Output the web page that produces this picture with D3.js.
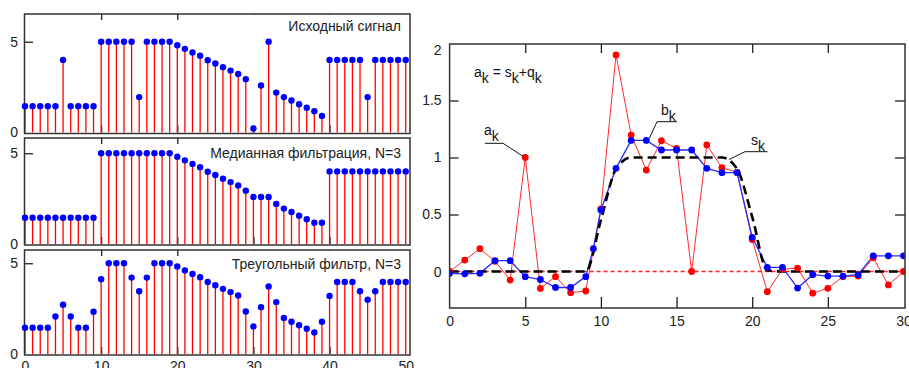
<!DOCTYPE html>
<html>
<head>
<meta charset="utf-8">
<script src="https://cdn.jsdelivr.net/npm/d3@7/dist/d3.min.js"></script>
<style>
  body { margin: 0; background: #fff; }
  svg { display: block; font-family: "Liberation Sans", Arial, sans-serif; }
</style>
</head>
<body>
<div id="root"></div>
<script>
// ---- left: three stem plots, k = 0..50
const kLeft = d3.range(0, 51);
const sourceSignal = [
  1.45, 1.45, 1.45, 1.45, 1.45, 4, 1.45, 1.45, 1.45, 1.45,
  5, 5, 5, 5, 5, 1.95, 5, 5, 5, 5,
  4.81, 4.61, 4.41, 4.23, 3.98, 3.8, 3.6, 3.41, 3.22, 2.94,
  0.22, 2.59, 5, 2.2, 1.95, 1.76, 1.56, 1.36, 1.17, 0.91,
  4, 4, 4, 4, 4, 1.95, 4, 4, 4, 4, 4
];
const medianFiltered = [
  1.45, 1.45, 1.45, 1.45, 1.45, 1.45, 1.45, 1.45, 1.45, 1.45,
  5, 5, 5, 5, 5, 5, 5, 5, 5, 5,
  4.81, 4.61, 4.41, 4.23, 3.98, 3.8, 3.6, 3.41, 3.22, 2.94,
  2.59, 2.59, 2.59, 2.2, 1.95, 1.76, 1.56, 1.36, 1.17, 1.17,
  4, 4, 4, 4, 4, 4, 4, 4, 4, 4, 4
];
const triangleFiltered = [
  1.45, 1.45, 1.45, 1.45, 2.07, 2.71, 2.07, 1.45, 1.45, 2.33,
  4.12, 5, 5, 5, 4.21, 3.46, 4.21, 5, 5, 5,
  4.82, 4.6, 4.41, 4.23, 3.97, 3.79, 3.59, 3.41, 3.22, 2.34,
  1.52, 2.58, 3.72, 2.86, 1.98, 1.78, 1.58, 1.39, 1.19, 1.78,
  3.2, 3.97, 3.97, 3.97, 3.46, 2.99, 3.46, 3.97, 3.97, 3.97, 3.97
];
const panelTitles = ["Исходный сигнал", "Медианная фильтрация, N=3", "Треугольный фильтр, N=3"];
const leftXTicks = [0, 10, 20, 30, 40, 50];
const leftYTicks = [0, 5];

// ---- right: a_k (red), b_k (blue), s_k (dashed), k = 0..30
const kRight = d3.range(0, 31);
const aValues = [
  0, 0.1, 0.2, 0.09, -0.075, 1.0, -0.148, -0.045, -0.186, -0.171,
  0.55, 1.9, 1.197, 0.89, 1.147, 1.08, 0.0, 1.11, 0.91, 0.87,
  0.28, -0.177, 0.02, 0.03, -0.19, -0.147, -0.045, -0.04, 0.12, -0.118,
  0.0
];
const bK = [0, 1, 2, 3, 4, 5, 6, 7, 8, 9, 9.5, 10, 11, 12, 13, 14, 15, 16, 17, 18, 19,
  20, 21, 22, 23, 24, 25, 26, 27, 28, 29, 30];
const bValues = [
  -0.016, -0.02, -0.016, 0.095, 0.095, -0.045, -0.07, -0.14, -0.14, -0.045, 0.2,
  0.54, 0.905, 1.15, 1.15, 1.066, 1.066, 1.066, 0.905, 0.867, 0.867,
  0.3, 0.037, 0.037, -0.145, -0.028, -0.04, -0.04, -0.028, 0.138, 0.138, 0.138
];
const sValues = [
  0, 0, 0, 0, 0, 0, 0, 0, 0, 0,
  0.45, 0.9, 1, 1, 1, 1, 1, 1, 1, 0.9,
  0.48, 0.01, 0, 0, 0, 0, 0, 0, 0, 0, 0
];
const rightXTicks = [0, 5, 10, 15, 20, 25, 30];
const rightYTicks = [0, 0.5, 1, 1.5, 2];

var svg = d3.select("#root")
  .append("svg")
  .attr("width", 909)
  .attr("height", 368);

svg.append("rect").attr("width", 909).attr("height", 368).attr("fill", "#fff");

// ===================== left stem panels
var xLeft = d3.scaleLinear().domain([0, 50]).range([25, 405.7]);
var leftRight = 410;

var panels = [
  { title: panelTitles[0], values: sourceSignal, top: 14, bottom: 132.5, ymax: 6.53, titleY: 31 },
  { title: panelTitles[1], values: medianFiltered, top: 138, bottom: 244, ymax: 5.84, titleY: 158 },
  { title: panelTitles[2], values: triangleFiltered, top: 250, bottom: 354, ymax: 5.73, titleY: 269 }
];

panels.forEach(function (p, i) {
  var y = d3.scaleLinear().domain([0, p.ymax]).range([p.bottom, p.top]);
  var g = svg.append("g");

  // inner ticks on all sides
  var tb = g.append("g").attr("transform", "translate(0," + p.bottom + ")")
    .call(d3.axisTop(xLeft).tickValues(leftXTicks.slice(1, -1)).tickSize(7).tickFormat(""));
  var tt = g.append("g").attr("transform", "translate(0," + p.top + ")")
    .call(d3.axisBottom(xLeft).tickValues(leftXTicks.slice(1, -1)).tickSize(6).tickFormat(""));
  var tl = g.append("g").attr("transform", "translate(" + xLeft(0) + ",0)")
    .call(d3.axisRight(y).tickValues([5]).tickSize(8).tickFormat(""));
  [tb, tt, tl].forEach(function (a) {
    a.select(".domain").remove();
    a.selectAll("line").attr("stroke", "#222").attr("stroke-width", 1.3);
  });

  // y labels
  var yl = g.append("g").attr("transform", "translate(" + xLeft(0) + ",0)")
    .call(d3.axisLeft(y).tickValues(leftYTicks).tickSize(0).tickPadding(7).tickFormat(d3.format("d")));
  yl.select(".domain").remove();
  yl.selectAll("text").attr("font-size", 14).attr("fill", "#222").attr("font-family", null);

  // stems
  g.selectAll(".stem")
    .data(p.values)
    .enter()
    .append("line")
    .attr("class", "stem")
    .attr("x1", (d, k) => xLeft(kLeft[k]))
    .attr("x2", (d, k) => xLeft(kLeft[k]))
    .attr("y1", y(0))
    .attr("y2", d => y(d))
    .attr("stroke", "#ff0000")
    .attr("stroke-width", 1.3);

  // frame
  g.append("rect")
    .attr("x", xLeft(0) - 0.5)
    .attr("y", p.top)
    .attr("width", leftRight - xLeft(0) + 0.5)
    .attr("height", p.bottom - p.top + 1)
    .attr("fill", "none")
    .attr("stroke", "#333")
    .attr("stroke-width", 1.5);

  // title box
  g.append("rect")
    .attr("x", 246).attr("y", p.top + 1)
    .attr("width", leftRight - 247).attr("height", 22)
    .attr("fill", "#fff");
  g.append("text")
    .attr("x", 401)
    .attr("y", p.titleY)
    .attr("text-anchor", "end")
    .attr("font-size", 14)
    .attr("fill", "#222")
    .text(p.title);

  // dots
  g.selectAll(".dot")
    .data(p.values)
    .enter()
    .append("circle")
    .attr("class", "dot")
    .attr("cx", (d, k) => xLeft(kLeft[k]))
    .attr("cy", d => y(d))
    .attr("r", 3.2)
    .attr("fill", "#0000ff");

  if (i === panels.length - 1) {
    var xb = g.append("g").attr("transform", "translate(0," + p.bottom + ")")
      .call(d3.axisBottom(xLeft).tickValues(leftXTicks).tickSize(0).tickPadding(7));
    xb.select(".domain").remove();
    xb.selectAll("text").attr("font-size", 14).attr("fill", "#222").attr("font-family", null);
  }
});

// ===================== right chart
var xRight = d3.scaleLinear().domain([0, 30]).range([449.6, 903.5]);
var yRight = d3.scaleLinear().domain([-0.32, 2]).range([308, 43.5]);
var frame = { left: 449.6, right: 905, top: 44, bottom: 308 };

var rg = svg.append("g");

rg.append("clipPath").attr("id", "clipR")
  .append("rect")
  .attr("x", frame.left).attr("y", frame.top)
  .attr("width", frame.right - frame.left).attr("height", frame.bottom - frame.top);

var inner = [
  rg.append("g").attr("transform", "translate(0," + frame.bottom + ")")
    .call(d3.axisTop(xRight).tickValues(rightXTicks.slice(1, -1)).tickSize(11).tickFormat("")),
  rg.append("g").attr("transform", "translate(0," + frame.top + ")")
    .call(d3.axisBottom(xRight).tickValues(rightXTicks.slice(1, -1)).tickSize(9).tickFormat("")),
  rg.append("g").attr("transform", "translate(" + frame.left + ",0)")
    .call(d3.axisRight(yRight).tickValues(rightYTicks.slice(1, -1)).tickSize(9).tickFormat("")),
  rg.append("g").attr("transform", "translate(" + frame.right + ",0)")
    .call(d3.axisLeft(yRight).tickValues(rightYTicks.slice(1, -1)).tickSize(10).tickFormat(""))
];
inner.forEach(function (a) {
  a.select(".domain").remove();
  a.selectAll("line").attr("stroke", "#222").attr("stroke-width", 1.3);
});

var rx = rg.append("g").attr("transform", "translate(0," + frame.bottom + ")")
  .call(d3.axisBottom(xRight).tickValues(rightXTicks).tickSize(0).tickPadding(8));
rx.select(".domain").remove();
rx.selectAll("text").attr("font-size", 14).attr("fill", "#222").attr("font-family", null);

var ry = rg.append("g").attr("transform", "translate(" + frame.left + ",0)")
  .call(d3.axisLeft(yRight).tickValues(rightYTicks).tickSize(0).tickPadding(8)
    .tickFormat(d3.format("")));
ry.select(".domain").remove();
ry.selectAll("text").attr("font-size", 14).attr("fill", "#222").attr("font-family", null);
ry.selectAll("text").filter(d => d === 2).attr("dy", "0.75em");

var plot = rg.append("g").attr("clip-path", "url(#clipR)");

// zero reference
plot.append("line")
  .attr("x1", xRight(0)).attr("x2", xRight(30))
  .attr("y1", yRight(0)).attr("y2", yRight(0))
  .attr("stroke", "#ff2020")
  .attr("stroke-width", 1.3)
  .attr("stroke-dasharray", "4,3");

var aPts = aValues.map((v, i) => [kRight[i], v]);
var bPts = bValues.map((v, i) => [bK[i], v]);
var sPts = sValues.map((v, i) => [kRight[i], v]);

var line = d3.line().x(d => xRight(d[0])).y(d => yRight(d[1]));

plot.append("path").datum(aPts)
  .attr("fill", "none").attr("stroke", "#ff2a2a").attr("stroke-width", 1)
  .attr("d", line);

plot.append("path").datum(bPts)
  .attr("fill", "none").attr("stroke", "#2a2aff").attr("stroke-width", 1.3)
  .attr("d", line);

plot.append("path").datum(sPts)
  .attr("fill", "none").attr("stroke", "#000").attr("stroke-width", 2.6)
  .attr("stroke-dasharray", "9,5")
  .attr("d", d3.line().curve(d3.curveMonotoneX).x(d => xRight(d[0])).y(d => yRight(d[1])));

plot.selectAll(".adot").data(aPts).enter().append("circle")
  .attr("class", "adot")
  .attr("cx", d => xRight(d[0])).attr("cy", d => yRight(d[1]))
  .attr("r", 3.4).attr("fill", "#ff0000");

plot.selectAll(".bdot").data(bPts).enter().append("circle")
  .attr("class", "bdot")
  .attr("cx", d => xRight(d[0])).attr("cy", d => yRight(d[1]))
  .attr("r", 3.4).attr("fill", "#0000ff");

rg.append("rect")
  .attr("x", frame.left).attr("y", frame.top)
  .attr("width", frame.right - frame.left).attr("height", frame.bottom - frame.top)
  .attr("fill", "none").attr("stroke", "#333").attr("stroke-width", 1.5);

// ---- annotations
function subLabel(x, y, parts, size) {
  var t = rg.append("text").attr("x", x).attr("y", y)
    .attr("font-size", size).attr("fill", "#111");
  parts.forEach(function (p) {
    if (p.sub) {
      t.append("tspan").attr("dy", 6).text(p.t);
    } else {
      t.append("tspan").attr("dy", p.up ? -6 : 0).text(p.t);
    }
  });
  return t;
}

subLabel(474, 77, [
  { t: "a" }, { t: "k", sub: true }, { t: " = s", up: true }, { t: "k", sub: true },
  { t: "+q", up: true }, { t: "k", sub: true }
], 14);

subLabel(484, 135, [{ t: "a" }, { t: "k", sub: true }], 14);
subLabel(661, 115, [{ t: "b" }, { t: "k", sub: true }], 14);
subLabel(751, 145, [{ t: "s" }, { t: "k", sub: true }], 14);

var leader = d3.line();
rg.append("path")
  .attr("d", leader([[485, 143.3], [503, 143.3], [xRight(5) - 2, yRight(aValues[5]) - 1]]))
  .attr("fill", "none").attr("stroke", "#111").attr("stroke-width", 1);
rg.append("path")
  .attr("d", leader([[677, 121.7], [657, 121.7], [xRight(13) + 3, yRight(bValues[14]) - 2]]))
  .attr("fill", "none").attr("stroke", "#111").attr("stroke-width", 1);
rg.append("path")
  .attr("d", leader([[767.5, 151.7], [745, 151.7], [729, yRight(1) + 2]]))
  .attr("fill", "none").attr("stroke", "#111").attr("stroke-width", 1);
</script>
</body>
</html>
